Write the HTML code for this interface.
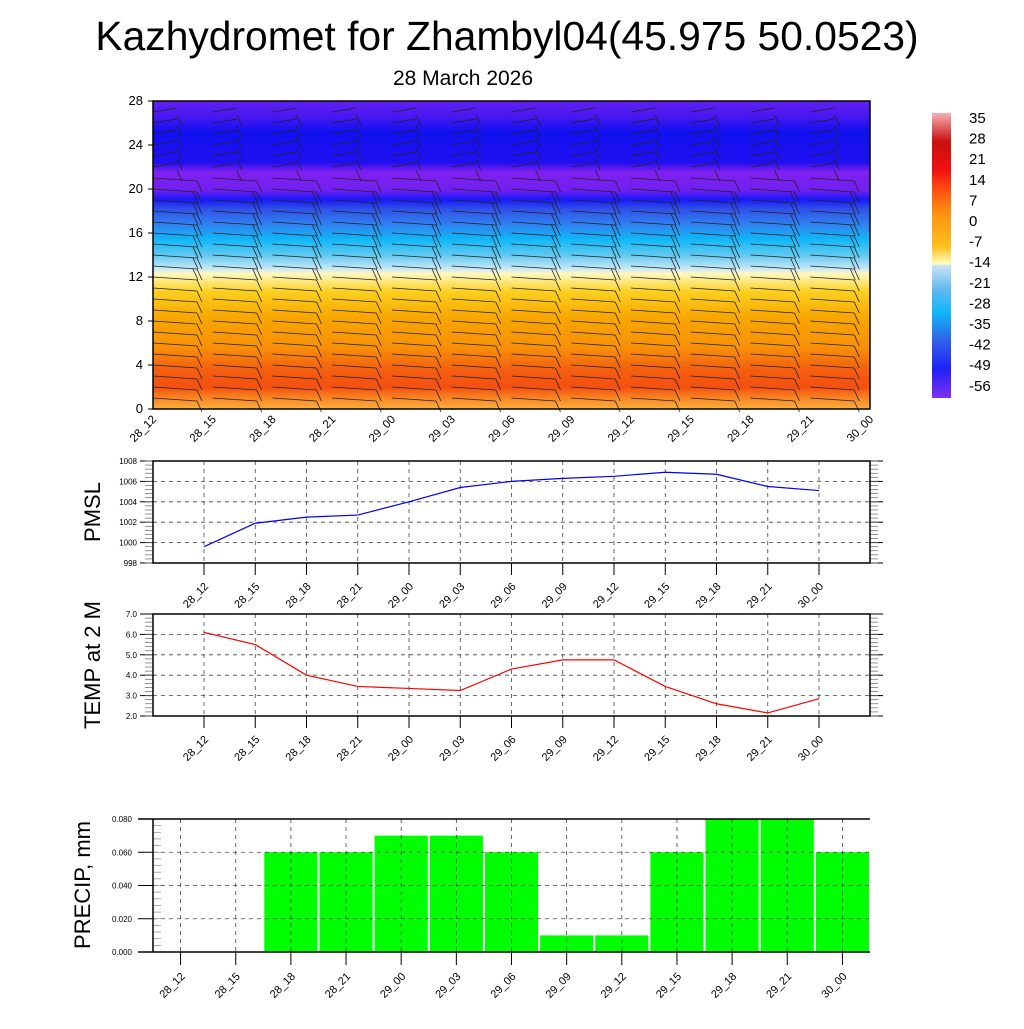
<!DOCTYPE html>
<html><head><meta charset="utf-8"><style>
body{margin:0;background:#fff}
svg text{font-family:"Liberation Sans",sans-serif}
</style></head><body>
<svg id="s" width="1024" height="1024" viewBox="0 0 1024 1024" xmlns="http://www.w3.org/2000/svg">
<defs>
<linearGradient id="tg" x1="0" y1="1" x2="0" y2="0">
<stop offset="0" stop-color="#fbb040"/>
<stop offset="0.04" stop-color="#f88020"/>
<stop offset="0.07" stop-color="#f45010"/>
<stop offset="0.13" stop-color="#f46010"/>
<stop offset="0.2" stop-color="#f89008"/>
<stop offset="0.3" stop-color="#f8a800"/>
<stop offset="0.38" stop-color="#fcd020"/>
<stop offset="0.44" stop-color="#fff8c0"/>
<stop offset="0.455" stop-color="#c8e8f8"/>
<stop offset="0.5" stop-color="#60c8f0"/>
<stop offset="0.55" stop-color="#10b8f8"/>
<stop offset="0.6" stop-color="#3080f0"/>
<stop offset="0.65" stop-color="#3050e8"/>
<stop offset="0.68" stop-color="#1818f8"/>
<stop offset="0.71" stop-color="#7020f0"/>
<stop offset="0.77" stop-color="#8020f0"/>
<stop offset="0.8" stop-color="#2010f0"/>
<stop offset="0.9" stop-color="#1010f0"/>
<stop offset="0.95" stop-color="#4818f0"/>
<stop offset="1" stop-color="#6020f0"/>
</linearGradient>
<linearGradient id="cb" x1="0" y1="0" x2="0" y2="1">
<stop offset="0" stop-color="#f8b0b0"/>
<stop offset="0.1" stop-color="#c81010"/>
<stop offset="0.2" stop-color="#f01010"/>
<stop offset="0.27" stop-color="#ff5010"/>
<stop offset="0.35" stop-color="#ff9010"/>
<stop offset="0.47" stop-color="#ffc020"/>
<stop offset="0.53" stop-color="#ffffc0"/>
<stop offset="0.535" stop-color="#c8e4f4"/>
<stop offset="0.62" stop-color="#60b8f0"/>
<stop offset="0.7" stop-color="#10b8f8"/>
<stop offset="0.8" stop-color="#3060e8"/>
<stop offset="0.9" stop-color="#2020f8"/>
<stop offset="1" stop-color="#8030f0"/>
</linearGradient>
</defs>
<text x="507" y="50" font-size="40.8" text-anchor="middle">Kazhydromet for Zhambyl04(45.975 50.0523)</text>
<text x="463" y="85" font-size="21" text-anchor="middle">28 March 2026</text>
<rect x="153" y="101" width="717" height="308" fill="url(#tg)"/>
<g id="barbs"></g>
<rect x="153" y="101" width="717" height="308" fill="none" stroke="#000" stroke-width="1.5"/>
<g id="topax"></g>
<rect x="932" y="113" width="19" height="285" fill="url(#cb)"/>
<g id="cbl"></g>
<g id="p1"></g>
<g id="p2"></g>
<g id="p3"></g>
</svg>
<script>
const times=["28_12","28_15","28_18","28_21","29_00","29_03","29_06","29_09","29_12","29_15","29_18","29_21","30_00"];
const pmsl=[999.6,1001.9,1002.5,1002.7,1004.0,1005.4,1006.0,1006.3,1006.5,1006.9,1006.7,1005.5,1005.1];
const temp2m=[6.1,5.5,4.0,3.45,3.35,3.25,4.3,4.75,4.75,3.45,2.6,2.15,2.85];
const precip=[0,0,0.06,0.06,0.07,0.07,0.06,0.01,0.01,0.06,0.08,0.08,0.06];
const heightTicks=[0,4,8,12,16,20,24,28];
const cbLabels=["35","28","21","14","7","0","-7","-14","-21","-28","-35","-42","-49","-56"];
const pmslTicks=[998,1000,1002,1004,1006,1008];
const tempTicks=[2,3,4,5,6,7];
const precipTicks=[0,0.02,0.04,0.06,0.08];
const NS="http://www.w3.org/2000/svg";
function mk(p,t,a,txt){const e=document.createElementNS(NS,t);for(const k in a)e.setAttribute(k,a[k]);if(txt!==undefined)e.textContent=txt;p.appendChild(e);return e;}
const topAxes=document.getElementById('topax');
const tx=i=>153+i*717/12, ty=v=>409-v*308/28;
heightTicks.forEach(v=>{mk(topAxes,'line',{x1:148,x2:153,y1:ty(v),y2:ty(v),stroke:'#000'});
const t=mk(topAxes,'text',{x:143,y:ty(v)+4,'font-size':13,'text-anchor':'end'},v);

});
times.forEach((s,i)=>{const t=mk(topAxes,'text',{x:tx(i)+4,y:420,'font-size':11.5,'text-anchor':'end',transform:`rotate(-45 ${tx(i)+4} 420)`},s);

});
const bg=document.getElementById('barbs');
times.forEach((s,i)=>{for(let h=1;h<28;h+=1){const x=tx(i),y=ty(h);if(x>868)continue;
const L=h>21?24:44; mk(bg,'line',{x1:x,y1:y,x2:x+L,y2:y+(h>21?-4:3),stroke:'#222','stroke-width':0.8});
const n=h>12&&h<21?2:1;for(let k=0;k<n;k++){const bx=x+L-k*4;mk(bg,'line',{x1:bx,y1:y+3,x2:bx+5,y2:y+14,stroke:'#222','stroke-width':0.8});}}});
const cbl=document.getElementById('cbl');
cbLabels.forEach((s,i)=>{const t=mk(cbl,'text',{x:969,y:123+i*20.6,'font-size':15},s);

});
function linePanel(g,y0,y1,vals,ticks,mn,mx,col,title,fmt,minor){
const X=i=>204+i*51.25, Y=v=>y1-(v-mn)/(mx-mn)*(y1-y0);
ticks.forEach(v=>{mk(g,'line',{x1:153,x2:870,y1:Y(v),y2:Y(v),stroke:'#444','stroke-dasharray':'4 4','stroke-width':0.8});
mk(g,'line',{x1:140,x2:153,y1:Y(v),y2:Y(v),stroke:'#000'});mk(g,'line',{x1:870,x2:883,y1:Y(v),y2:Y(v),stroke:'#000'});
const t=mk(g,'text',{x:137,y:Y(v)+3,'font-size':8,'text-anchor':'end'},fmt(v));

});
for(let v=mn;v<mx;v+=minor){mk(g,'line',{x1:145,x2:153,y1:Y(v),y2:Y(v),stroke:'#666','stroke-width':0.7});mk(g,'line',{x1:870,x2:878,y1:Y(v),y2:Y(v),stroke:'#666','stroke-width':0.7});}
times.forEach((s,i)=>{mk(g,'line',{x1:X(i),x2:X(i),y1:y0,y2:y1,stroke:'#444','stroke-dasharray':'4 4','stroke-width':0.8});
mk(g,'line',{x1:X(i),x2:X(i),y1:y1,y2:y1+12,stroke:'#000'});
const t=mk(g,'text',{x:X(i)+5,y:y1+24,'font-size':11,'text-anchor':'end',transform:`rotate(-45 ${X(i)+5} ${y1+24})`},s);

});
mk(g,'rect',{x:153,y:y0,width:717,height:y1-y0,fill:'none',stroke:'#000','stroke-width':1.5});
const pl=mk(g,'polyline',{points:vals.map((v,i)=>X(i)+','+Y(v)).join(' '),fill:'none',stroke:col,'stroke-width':1.2});


const tt=mk(g,'text',{x:100,y:(y0+y1)/2,'font-size':22,'text-anchor':'middle',transform:`rotate(-90 100 ${(y0+y1)/2})`},title);

}
linePanel(document.getElementById('p1'),461,563,pmsl,pmslTicks,998,1008,'#0000ff','PMSL',v=>v,0.4);
linePanel(document.getElementById('p2'),614,716,temp2m,tempTicks,2,7,'#ff0000','TEMP at 2 M',v=>v.toFixed(1),0.2);
const g=document.getElementById('p3');const bw=717/13;
const PX=i=>153+bw*(i+0.5), PY=v=>952-v/0.08*133;
precip.forEach((v,i)=>{const r=mk(g,'rect',{x:PX(i)-bw/2+1,y:PY(v),width:bw-2,height:952-PY(v),fill:'#00ff00'});

});
precipTicks.forEach(v=>{mk(g,'line',{x1:153,x2:870,y1:PY(v),y2:PY(v),stroke:'#444','stroke-dasharray':'4 4','stroke-width':0.8});
mk(g,'line',{x1:138,x2:153,y1:PY(v),y2:PY(v),stroke:'#000'});
const t=mk(g,'text',{x:132,y:PY(v)+3,'font-size':8,'text-anchor':'end'},v.toFixed(3));

});
for(let v=0;v<0.08;v+=0.004)mk(g,'line',{x1:153,x2:161,y1:PY(v),y2:PY(v),stroke:'#888','stroke-width':0.7});
times.forEach((s,i)=>{mk(g,'line',{x1:PX(i),x2:PX(i),y1:819,y2:952,stroke:'#444','stroke-dasharray':'4 4','stroke-width':0.8});
mk(g,'line',{x1:PX(i),x2:PX(i),y1:952,y2:965,stroke:'#000'});
const t=mk(g,'text',{x:PX(i)+5,y:977,'font-size':11,'text-anchor':'end',transform:`rotate(-45 ${PX(i)+5} 977)`},s);

});
mk(g,'line',{x1:153,x2:153,y1:819,y2:952,stroke:'#000','stroke-width':1.5});
mk(g,'line',{x1:138,x2:870,y1:819,y2:819,stroke:'#000','stroke-width':1.5});
mk(g,'line',{x1:138,x2:870,y1:952,y2:952,stroke:'#000','stroke-width':1.5});
const pt=mk(g,'text',{x:90,y:885,'font-size':22,'text-anchor':'middle',transform:'rotate(-90 90 885)'},'PRECIP, mm');


</script>
</body></html>
